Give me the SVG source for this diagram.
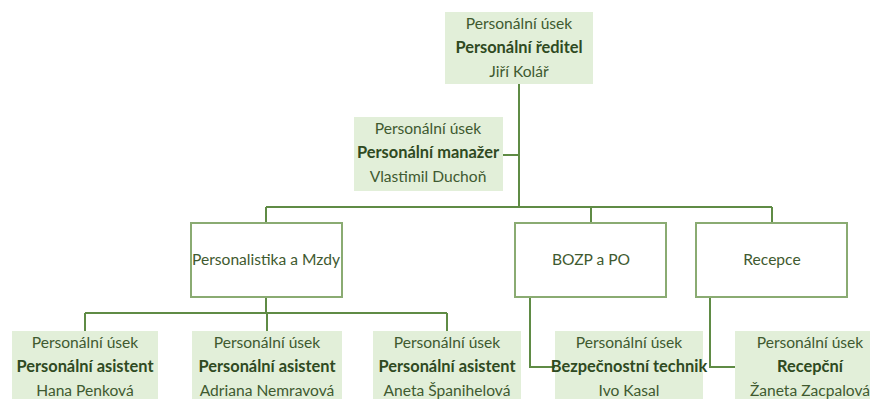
<svg xmlns="http://www.w3.org/2000/svg" width="870" height="399" viewBox="0 0 870 399">
  <style>
    .card { fill: #e2efd9; }
    .unit { fill: #ffffff; stroke: #8aab72; stroke-width: 2; }
    .link { fill: none; stroke: #5f8b45; stroke-width: 2; }
    text { font-family: Lato, "Open Sans", "Liberation Sans", sans-serif; font-size: 15.6px; text-anchor: middle; fill: #3f5a30; }
    .b { font-weight: bold; font-size: 16.4px; fill: #2f4a22; }
  </style>

  <!-- connectors -->
  <g id="connectors">
    <path class="link" d="M519 84 V207"/>
    <path class="link" d="M503 155 H519"/>
    <path class="link" d="M266 207 H772 M266 207 V223 M591 207 V223 M772 207 V223"/>
    <path class="link" d="M266 297 V313 M85 313 H447 M85 313 V331 M267 313 V331 M447 313 V331"/>
    <path class="link" d="M530 297 V367 H555"/>
    <path class="link" d="M710 297 V367 H735"/>
  </g>

  <!-- director -->
  <g id="director">
    <rect class="card" x="445" y="12" width="148" height="72"/>
    <text x="519" y="29">Personální úsek</text>
    <text class="b" x="519" y="53">Personální ředitel</text>
    <text x="519" y="77">Jiří Kolář</text>
  </g>

  <!-- manager -->
  <g id="manager">
    <rect class="card" x="354" y="117" width="149" height="74"/>
    <text x="428" y="134">Personální úsek</text>
    <text class="b" x="428" y="158">Personální manažer</text>
    <text x="428" y="182">Vlastimil Duchoň</text>
  </g>

  <!-- departments -->
  <g id="dept-payroll">
    <rect class="unit" x="191" y="223" width="151" height="74"/>
    <text x="266" y="265">Personalistika a Mzdy</text>
  </g>
  <g id="dept-safety">
    <rect class="unit" x="515" y="223" width="151" height="74"/>
    <text x="591" y="265">BOZP a PO</text>
  </g>
  <g id="dept-reception">
    <rect class="unit" x="696" y="223" width="151" height="74"/>
    <text x="772" y="265">Recepce</text>
  </g>

  <!-- staff -->
  <g id="assistant-1">
    <rect class="card" x="12" y="331" width="146" height="72"/>
    <text x="85" y="348">Personální úsek</text>
    <text class="b" x="85" y="372">Personální asistent</text>
    <text x="85" y="396">Hana Penková</text>
  </g>
  <g id="assistant-2">
    <rect class="card" x="192" y="331" width="150" height="72"/>
    <text x="267" y="348">Personální úsek</text>
    <text class="b" x="267" y="372">Personální asistent</text>
    <text x="267" y="396">Adriana Nemravová</text>
  </g>
  <g id="assistant-3">
    <rect class="card" x="373" y="331" width="148" height="72"/>
    <text x="447" y="348">Personální úsek</text>
    <text class="b" x="447" y="372">Personální asistent</text>
    <text x="447" y="396">Aneta Španihelová</text>
  </g>
  <g id="safety-tech">
    <rect class="card" x="555" y="331" width="148" height="72"/>
    <text x="629" y="348">Personální úsek</text>
    <text class="b" x="629" y="372">Bezpečnostní technik</text>
    <text x="629" y="396">Ivo Kasal</text>
  </g>
  <g id="receptionist">
    <rect class="card" x="735" y="331" width="148" height="72"/>
    <text x="810" y="348">Personální úsek</text>
    <text class="b" x="810" y="372">Recepční</text>
    <text x="810" y="396">Žaneta Zacpalová</text>
  </g>
</svg>
